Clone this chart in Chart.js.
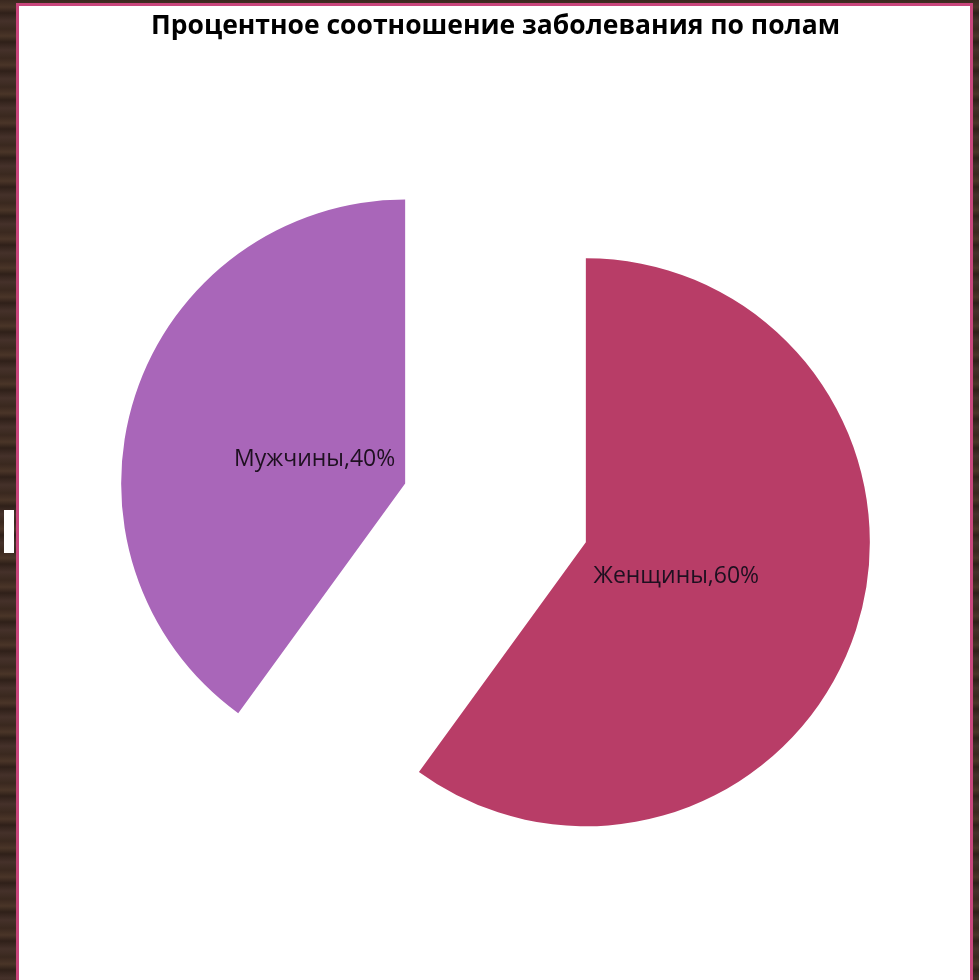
<!DOCTYPE html>
<html><head><meta charset="utf-8">
<script src="https://cdn.jsdelivr.net/npm/chart.js@4.4.1/dist/chart.umd.min.js"></script>
<style>
html,body{margin:0;padding:0;width:979px;height:980px;overflow:hidden;}
body{background:#3b2a21;background-image:repeating-linear-gradient(180deg,#3a281f 0px,#4a3528 7px,#2f2019 13px,#45312a 21px,#3a291f 29px);position:relative;}
#frag{position:absolute;left:4px;top:510px;width:10px;height:43px;background:#fff;}
#panel{position:absolute;left:16px;top:3px;width:957px;height:990px;background:#fff;border:3px solid #c8467c;box-sizing:border-box;}
#c{position:absolute;left:0;top:0;}
</style></head>
<body>
<div id="frag"></div>
<div id="panel"></div>
<canvas id="c" width="979" height="980"></canvas>
<script>
const titleText = 'Процентное соотношение заболевания по полам';
const categories = ['Женщины', 'Мужчины'];
const values = [60, 40];
const colors = ['#b83d67', '#a966b9'];
const explodeDistance = 95;   // pixels each slice is pulled out
const labelFraction = 0.335;  // label distance from slice apex, as fraction of radius

// Pull every slice out along its own mid-angle (Excel-style exploded pie)
const explodePlugin = {
  id: 'explode',
  afterDatasetUpdate(chart, args) {
    args.meta.data.forEach(arc => {
      const mid = (arc.startAngle + arc.endAngle) / 2;
      arc.x += Math.cos(mid) * explodeDistance;
      arc.y += Math.sin(mid) * explodeDistance;
    });
  }
};

const labelPlugin = {
  id: 'sliceLabels',
  afterDatasetsDraw(chart) {
    const ctx = chart.ctx;
    const meta = chart.getDatasetMeta(0);
    ctx.save();
    ctx.font = '23px "Open Sans", "Liberation Sans", sans-serif';
    ctx.fillStyle = '#1e1020';
    ctx.textAlign = 'center';
    ctx.textBaseline = 'middle';
    meta.data.forEach((arc, i) => {
      const mid = (arc.startAngle + arc.endAngle) / 2;
      const d = arc.outerRadius * labelFraction;
      const tx = arc.x + Math.cos(mid) * d;
      const ty = arc.y + Math.sin(mid) * d + 5;
      ctx.fillText(categories[i] + ',' + values[i] + '%', tx, ty);
    });
    ctx.restore();
  }
};

new Chart(document.getElementById('c'), {
  type: 'pie',
  data: {
    labels: categories,
    datasets: [{
      data: values,
      backgroundColor: colors,
      borderWidth: 0,
      radius: 284
    }]
  },
  options: {
    responsive: false,
    animation: false,
    layout: { padding: { left: 12, right: 0, top: 0, bottom: 5 } },
    plugins: {
      legend: { display: false },
      tooltip: { enabled: false },
      title: {
        display: true,
        text: titleText,
        color: '#000',
        font: { family: '"Open Sans", "Liberation Sans", sans-serif', size: 26.5, weight: 'bold', lineHeight: 1.2 },
        padding: { top: 11, bottom: 8 }
      }
    }
  },
  plugins: [explodePlugin, labelPlugin]
});
</script>
</body></html>
